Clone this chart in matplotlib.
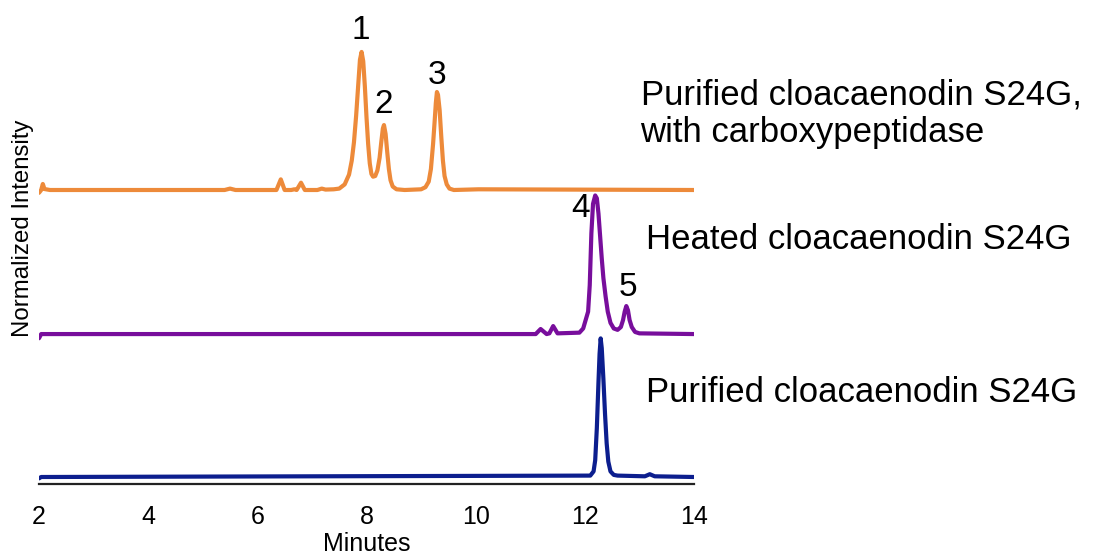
import numpy as np
import matplotlib.pyplot as plt

plt.rcParams['font.family'] = ['Liberation Sans', 'DejaVu Sans']

# retention time (min) and normalized absorbance, read per trace
carb_t = [2.00, 2.04, 2.07, 2.10, 2.20, 5.40, 5.50, 5.60, 6.35, 6.43, 6.50, 6.62,
          6.68, 6.72, 6.80, 6.87, 7.10, 7.18, 7.25, 7.40, 7.50, 7.60, 7.68, 7.73,
          7.77, 7.81, 7.85, 7.88, 7.91, 7.94, 7.97, 8.00, 8.03, 8.06, 8.09, 8.12,
          8.16, 8.20, 8.24, 8.27, 8.30, 8.32, 8.35, 8.38, 8.41, 8.44, 8.48, 8.55,
          8.70, 9.00, 9.08, 9.14, 9.18, 9.22, 9.25, 9.27, 9.29, 9.31, 9.34, 9.37,
          9.40, 9.43, 9.47, 9.52, 9.60, 10.05, 14.00]
carb_i = [-0.02, 0.00, 0.043, 0.007, 0.00, 0.00, 0.01, 0.00, 0.00, 0.076, 0.00, 0.00,
          0.005, 0.00, 0.052, 0.00, 0.00, 0.01, 0.003, 0.005, 0.01, 0.04, 0.11, 0.21,
          0.34, 0.53, 0.76, 0.93, 0.986, 0.92, 0.74, 0.52, 0.33, 0.19, 0.115, 0.095,
          0.10, 0.14, 0.23, 0.34, 0.44, 0.464, 0.40, 0.27, 0.15, 0.07, 0.025, 0.005,
          0.00, 0.005, 0.02, 0.06, 0.15, 0.33, 0.50, 0.62, 0.70, 0.68, 0.57, 0.38,
          0.21, 0.10, 0.04, 0.01, 0.00, 0.005, 0.00]

heat_t = [2.00, 2.04, 11.10, 11.19, 11.30, 11.35, 11.42, 11.50, 11.90, 11.97, 12.03,
          12.06, 12.09, 12.12, 12.15, 12.19, 12.22, 12.25, 12.28, 12.31, 12.34, 12.38,
          12.42, 12.47, 12.53, 12.60, 12.66, 12.70, 12.73, 12.76, 12.79, 12.82, 12.86,
          12.92, 13.00, 14.00]
heat_i = [-0.03, 0.00, 0.00, 0.036, 0.00, 0.005, 0.057, 0.005, 0.01, 0.04, 0.12,
          0.16, 0.35, 0.72, 0.93, 0.99, 0.97, 0.86, 0.70, 0.54, 0.40, 0.27,
          0.16, 0.08, 0.04, 0.03, 0.05, 0.10, 0.16, 0.20, 0.17, 0.10, 0.05,
          0.015, 0.005, 0.00]

pure_t = [2.00, 2.04, 12.10, 12.16, 12.19, 12.22, 12.25, 12.27, 12.29, 12.31, 12.34,
          12.37, 12.40, 12.43, 12.47, 12.53, 12.60, 13.10, 13.19, 13.28, 14.00]
pure_i = [-0.01, 0.00, 0.01, 0.04, 0.12, 0.35, 0.68, 0.88, 0.99, 0.92, 0.70,
          0.45, 0.24, 0.11, 0.04, 0.015, 0.01, 0.005, 0.02, 0.005, 0.00]

peak_ids = ['1', '2', '3', '4', '5']
sample_names = ['Purified cloacaenodin S24G,\nwith carboxypeptidase',
                'Heated cloacaenodin S24G',
                'Purified cloacaenodin S24G']

# stacking offsets and styling
offsets = [2.1, 1.071, 0.05]
colors = ['#ED8A3A', '#780E9C', '#0C1E8E']
peak_xy = [(7.90, 3.24), (8.31, 2.71), (9.29, 2.92), (11.93, 1.97), (12.79, 1.40)]
name_xy = [(13.02, 2.645), (13.12, 1.743), (13.12, 0.657)]

fig = plt.figure(figsize=(10.99, 5.58), dpi=100)
ax = fig.add_axes([39 / 1099, 74 / 558, 655 / 1099, 464 / 558])

traces = [(carb_t, carb_i), (heat_t, heat_i), (pure_t, pure_i)]
for (t, inten), off, c in zip(traces, offsets, colors):
    ax.plot(t, np.array(inten) + off, color=c, lw=3.0,
            solid_joinstyle='round', solid_capstyle='round')

for lab, (x, y) in zip(peak_ids, peak_xy):
    ax.text(x, y, lab, fontsize=24, ha='center', va='center')

for name, (x, y) in zip(sample_names, name_xy):
    ax.text(x, y, name, fontsize=25, ha='left', va='center', linespacing=1.2,
            clip_on=False)

ax.set_xlim(2, 14)
ax.set_ylim(0, 464 / 140)
ax.set_xticks(np.arange(2, 15, 2))
ax.set_yticks([])
for s in ['left', 'right', 'top']:
    ax.spines[s].set_visible(False)
ax.spines['bottom'].set_linewidth(1.6)
ax.spines['bottom'].set_color('#222222')
ax.tick_params(axis='x', length=0, pad=15)
for lbl in ax.get_xticklabels():
    lbl.set_family(['Liberation Sans Narrow', 'Liberation Sans'])
    lbl.set_fontsize(18)
ax.set_xlabel('Minutes', fontsize=18, labelpad=2,
              family=['Liberation Sans Narrow', 'Liberation Sans'])
fig.text(23 / 1099, 1 - 228 / 558, 'Normalized Intensity', rotation=90,
         fontsize=17.3, ha='center', va='center')

fig.savefig('out.png', dpi=100)
